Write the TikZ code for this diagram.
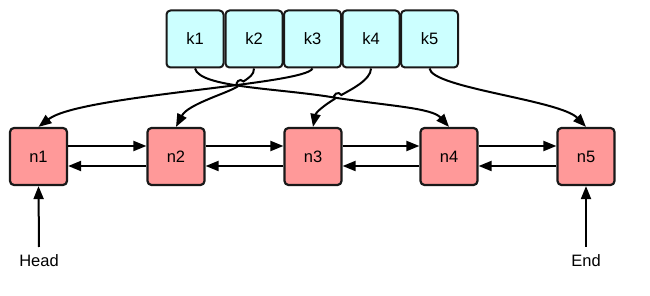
\documentclass[tikz,border=0pt]{standalone}
\usepackage{fontspec}
\setmainfont{Liberation Sans}
\usetikzlibrary{arrows.meta}
\definecolor{keyfill}{HTML}{CCFFFF}
\definecolor{nodefill}{HTML}{FF9999}
\begin{document}
\begin{tikzpicture}[x=1pt,y=-1pt,
  keybox/.style={draw=black!90,line width=2pt,fill=keyfill,rounded corners=4pt,minimum width=57pt,minimum height=57pt,inner sep=0pt,font=\fontsize{16.5}{18}\selectfont},
  listbox/.style={draw=black!90,line width=2.2pt,fill=nodefill,rounded corners=4pt,minimum width=57pt,minimum height=57pt,inner sep=0pt,font=\fontsize{16.5}{18}\selectfont},
  conn/.style={line width=2pt,-{Triangle[length=13pt,width=10pt]}},
  lbl/.style={font=\fontsize{16.5}{18}\selectfont,inner sep=0pt}]
\useasboundingbox (0,0) rectangle (650,296);
% keys
\node[keybox] (k1) at (195,39) {k1};
\node[keybox] (k2) at (254,39) {k2};
\node[keybox] (k3) at (312.5,39) {k3};
\node[keybox] (k4) at (371,39) {k4};
\node[keybox] (k5) at (429.5,39) {k5};
% list nodes
\node[listbox] (n1) at (38.5,156.5) {n1};
\node[listbox] (n2) at (176,156.5) {n2};
\node[listbox] (n3) at (313,156.5) {n3};
\node[listbox] (n4) at (449,156.5) {n4};
\node[listbox] (n5) at (586,156.5) {n5};
% labels
\node[lbl] (head) at (39,261) {Head};
\node[lbl] (end) at (586,261) {End};
\coordinate (hs) at (39,247);
\coordinate (es) at (586,247);
% horizontal links
\foreach \a/\b in {n1/n2,n2/n3,n3/n4,n4/n5}{
  \draw[conn] ([yshift=10.5pt]\a.east) -- ([yshift=10.5pt]\b.west);
  \draw[conn] ([yshift=-9.5pt]\b.west) -- ([yshift=-9.5pt]\a.east);
}
\draw[conn] (hs) -- (n1.south);
\draw[conn] (es) -- (n5.south);
% hop points
\coordinate (a2) at (243.5,81.5);
\coordinate (b2) at (237.5,86.5);
\coordinate (a4) at (341.4,95);
\coordinate (b4) at (334.6,99);
\coordinate (m1) at (337,98);
% key to node curves
\draw[conn] (k1.south) .. controls (200,88) and (280,88) .. (m1) .. controls (390,106) and (432,108) .. (n4.north);
\draw[conn] (k3.south) .. controls (305,85) and (80,95) .. (n1.north);
\draw[conn] (k2.south) .. controls (254,75) and (249,77.5) .. (a2) .. controls (240.2,77.5) and (234.2,82.5) .. (b2) .. controls (228,93) and (188,104) .. (n2.north);
\draw[conn] (k4.south) .. controls (371,80) and (350,90) .. (a4) .. controls (338.7,90.5) and (331.9,94.5) .. (b4) .. controls (326,104) and (316,112) .. (n3.north);
\draw[conn] (k5.south) .. controls (432,88) and (560,100) .. (n5.north);
\end{tikzpicture}
\end{document}
